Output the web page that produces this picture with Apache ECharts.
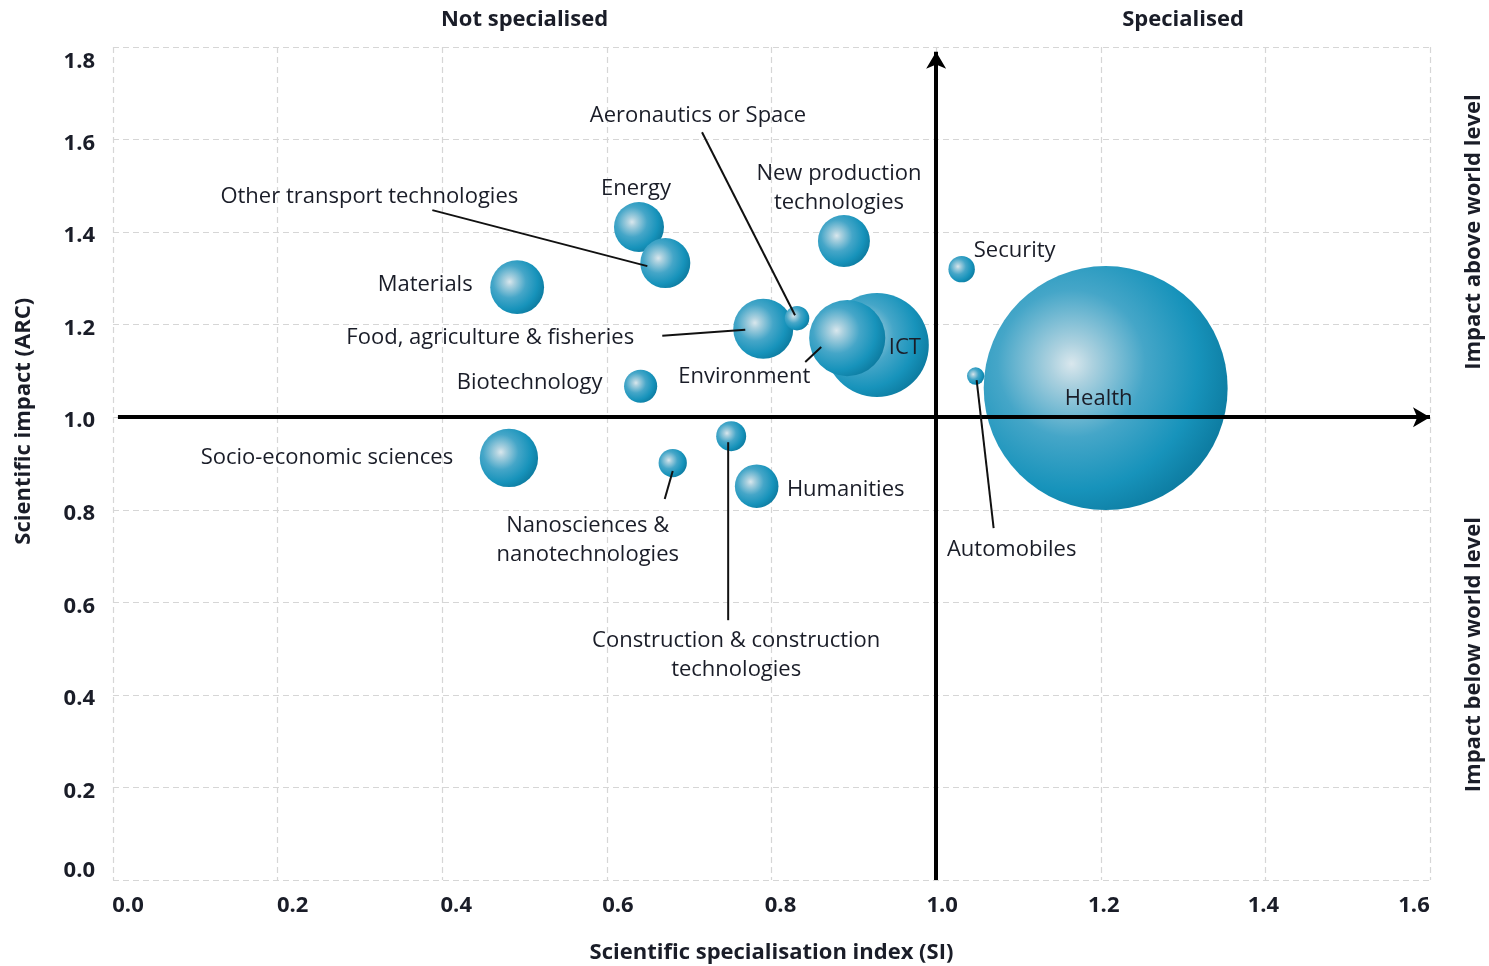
<!DOCTYPE html>
<html>
<head>
<meta charset="utf-8">
<script src="https://cdn.jsdelivr.net/npm/echarts@6/dist/echarts.min.js"></script>
<style>
  html, body { margin: 0; padding: 0; background: #ffffff; }
  #chart { width: 1489px; height: 966px; }
</style>
</head>
<body>
<div id="chart"></div>
<script>
// Research fields, in drawing order (later ones sit on top)
const fields = [
  'Energy',
  'Other transport technologies',
  'Materials',
  'Food, agriculture & fisheries',
  'Aeronautics or Space',
  'New production\ntechnologies',
  'ICT',
  'Environment',
  'Biotechnology',
  'Security',
  'Health',
  'Automobiles',
  'Socio-economic sciences',
  'Nanosciences &\nnanotechnologies',
  'Construction & construction\ntechnologies',
  'Humanities'
];
// Scientific specialisation index (SI)
const si = [0.639, 0.671, 0.491, 0.790, 0.831, 0.888, 0.928, 0.892, 0.641, 1.031, 1.206, 1.048, 0.481, 0.680, 0.751, 0.782];
// Scientific impact (ARC)
const arc = [1.411, 1.333, 1.281, 1.191, 1.214, 1.381, 1.156, 1.171, 1.067, 1.320, 1.063, 1.089, 0.912, 0.901, 0.959, 0.851];
// Share of publications (%), drives bubble area
const share = [2.5, 2.5, 2.9, 3.6, 0.6, 2.7, 10.8, 5.8, 1.1, 0.7, 59.5, 0.3, 3.4, 0.8, 0.9, 1.9];

const xTicks = [0, 0.2, 0.4, 0.6, 0.8, 1.0, 1.2, 1.4, 1.6];
const yTicks = [0, 0.2, 0.4, 0.6, 0.8, 1.0, 1.2, 1.4, 1.6, 1.8];

// Label placement (pixel offset of the label centre from the bubble centre)
const labelOffset = {
  'Energy': [-3, -40],
  'Other transport technologies': [-296, -68],
  'Materials': [-92, -4],
  'Food, agriculture & fisheries': [-273, 7],
  'Aeronautics or Space': [-99, -204],
  'New production\ntechnologies': [-5, -55],
  'ICT': [28, 1],
  'Environment': [-103, 37],
  'Biotechnology': [-111, -5],
  'Security': [53, -20],
  'Health': [-7, 9],
  'Automobiles': [36, 172],
  'Socio-economic sciences': [-182, -2],
  'Nanosciences &\nnanotechnologies': [-85, 75],
  'Construction & construction\ntechnologies': [5, 217],
  'Humanities': [89, 2]
};
// Leader lines: [dx1, dy1, dx2, dy2] relative to the bubble centre
const leaders = {
  'Aeronautics or Space': [-95, -186, -2, -3],
  'Other transport technologies': [-233, -53, -18, 3],
  'Food, agriculture & fisheries': [-101, 7, -18, 1],
  'Environment': [-42, 24, -26, 9],
  'Automobiles': [1, 4, 18, 152],
  'Nanosciences &\nnanotechnologies': [-8, 36, 0, 8],
  'Construction & construction\ntechnologies': [-3, 184, -3, 6]
};

const FONT = "'Open Sans', 'Noto Sans', sans-serif";
const TEXT = '#1a1d28';

const bubbleFill = new echarts.graphic.RadialGradient(0.36, 0.4, 0.72, [
  { offset: 0, color: '#d9e7ed' },
  { offset: 0.12, color: '#acd1df' },
  { offset: 0.42, color: '#45a6c8' },
  { offset: 0.72, color: '#1793bb' },
  { offset: 1, color: '#0a7498' }
]);

// Tick label nudges (px) so the outer labels stay inside the frame
const xShift = { '0.0': 15, '0.2': 15, '0.4': 14, '0.6': 11, '0.8': 9, '1.0': 6, '1.2': 3, '1.4': -2, '1.6': -16 };
const yShift = { '0.0': -9, '1.8': 15 };

const tickFont = { fontFamily: FONT, fontWeight: 'bold', fontSize: 22, color: TEXT };
const xRich = {}, yRich = {};
xTicks.forEach((v, i) => {
  const s = xShift[v.toFixed(1)] || 0;
  xRich['x' + i] = Object.assign({ padding: s >= 0 ? [0, 0, 0, 2 * s] : [0, -2 * s, 0, 0] }, tickFont);
});
yTicks.forEach((v, i) => {
  const s = yShift[v.toFixed(1)] !== undefined ? yShift[v.toFixed(1)] : 4;
  yRich['y' + i] = Object.assign({ padding: s >= 0 ? [2 * s, 0, 0, 0] : [0, 0, -2 * s, 0] }, tickFont);
});

const bubbleData = fields.map((name, i) => ({
  name: name,
  value: [si[i], arc[i], share[i]]
}));

const chart = echarts.init(document.getElementById('chart'), null, { renderer: 'canvas' });

const option = {
  backgroundColor: '#ffffff',
  animation: false,
  grid: { left: 113, right: 59, top: 47, bottom: 86, containLabel: false, outerBoundsMode: 'none' },
  xAxis: {
    type: 'value',
    min: 0, max: 1.6, interval: 0.2,
    name: 'Scientific specialisation index (SI)',
    nameLocation: 'middle',
    nameGap: 62,
    nameTextStyle: { fontFamily: FONT, fontWeight: 'bold', fontSize: 22, color: TEXT },
    axisLine: { show: false },
    axisTick: { show: false },
    splitLine: { show: true, lineStyle: { color: '#d6d6d6', type: [6, 4], width: 1.2 } },
    axisLabel: {
      margin: 15,
      fontFamily: FONT, fontWeight: 'bold', fontSize: 22, color: TEXT,
      formatter: function (v) {
        const i = xTicks.findIndex(t => Math.abs(t - v) < 1e-9);
        return '{x' + i + '|' + v.toFixed(1) + '}';
      },
      rich: xRich
    }
  },
  yAxis: {
    type: 'value',
    min: 0, max: 1.8, interval: 0.2,
    axisLine: { show: false },
    axisTick: { show: false },
    splitLine: { show: true, lineStyle: { color: '#d6d6d6', type: [6, 4], width: 1.2 } },
    axisLabel: {
      margin: 18,
      fontFamily: FONT, fontWeight: 'bold', fontSize: 22, color: TEXT,
      formatter: function (v) {
        const i = yTicks.findIndex(t => Math.abs(t - v) < 1e-9);
        return '{y' + i + '|' + v.toFixed(1) + '}';
      },
      rich: yRich
    }
  },
  series: [
    {
      // Reference axes at SI = 1 and ARC = 1
      type: 'line',
      data: [],
      z: 1,
      silent: true,
      markLine: {
        silent: true,
        symbol: ['none', 'arrow'],
        symbolSize: [15, 17],
        label: { show: false },
        lineStyle: { color: '#000000', width: 4, type: 'solid' },
        emphasis: { disabled: true },
        data: [
          [{ coord: [1.0, 0] }, { coord: [1.0, 1.79] }],
          [{ coord: [0.006, 1.0] }, { coord: [1.6, 1.0] }]
        ]
      }
    },
    {
      type: 'scatter',
      z: 3,
      silent: true,
      data: bubbleData,
      symbolSize: function (val) { return 2 * Math.sqrt(val[2] * 250); },
      itemStyle: { color: bubbleFill, opacity: 1 },
      label: {
        show: true,
        position: 'inside',
        formatter: '{b}',
        fontFamily: FONT,
        fontSize: 22,
        color: TEXT,
        lineHeight: 29,
        align: 'center',
        verticalAlign: 'middle'
      },
      labelLayout: function (params) {
        const o = labelOffset[fields[params.dataIndex]] || [0, 0];
        return { dx: o[0], dy: o[1] + 2, hideOverlap: false };
      }
    }
  ]
};

chart.setOption(option);

// Annotations: leader lines, quadrant headings, axis titles
function toPx(x, y) { return chart.convertToPixel({ gridIndex: 0 }, [x, y]); }

const graphics = [];
fields.forEach((name, i) => {
  const l = leaders[name];
  if (!l) return;
  const c = toPx(si[i], arc[i]);
  graphics.push({
    type: 'line', z: 10, silent: true,
    shape: { x1: c[0] + l[0], y1: c[1] + l[1], x2: c[0] + l[2], y2: c[1] + l[3] },
    style: { stroke: '#111111', lineWidth: 2 }
  });
});

const pLeft = toPx(0, 1.0), pMid = toPx(1.0, 1.0), pRight = toPx(1.6, 1.0);
const pTop = toPx(1.0, 1.8), pBottom = toPx(1.0, 0);
const headStyle = { fontFamily: FONT, fontWeight: 'bold', fontSize: 22, fill: TEXT, align: 'center', verticalAlign: 'middle' };

graphics.push({ type: 'text', x: (pLeft[0] + pMid[0]) / 2, y: 20, style: Object.assign({ text: 'Not specialised' }, headStyle) });
graphics.push({ type: 'text', x: (pMid[0] + pRight[0]) / 2, y: 20, style: Object.assign({ text: 'Specialised' }, headStyle) });
graphics.push({ type: 'text', x: 1474, y: (pTop[1] + pMid[1]) / 2, rotation: Math.PI / 2, style: Object.assign({ text: 'Impact above world level' }, headStyle) });
graphics.push({ type: 'text', x: 1474, y: (pMid[1] + pBottom[1]) / 2 + 6, rotation: Math.PI / 2, style: Object.assign({ text: 'Impact below world level' }, headStyle) });
graphics.push({ type: 'text', x: 24, y: pMid[1] + 4, rotation: Math.PI / 2, style: Object.assign({ text: 'Scientific impact (ARC)' }, headStyle) });

chart.setOption({ graphic: graphics });
</script>
</body>
</html>
